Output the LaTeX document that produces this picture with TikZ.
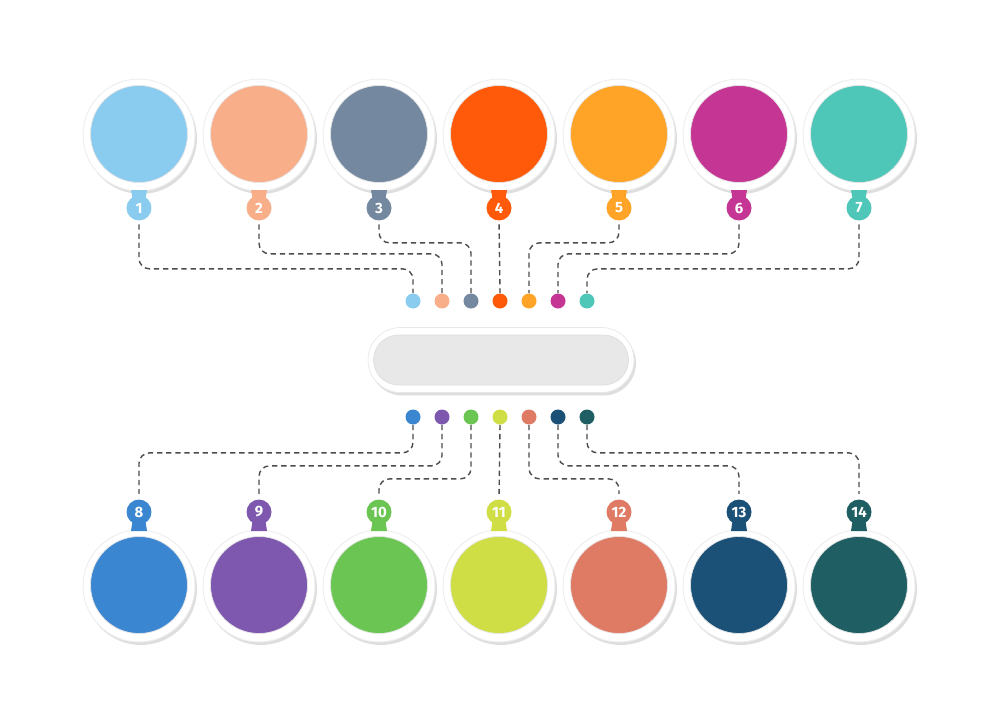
\documentclass[tikz,border=0pt]{standalone}
\usepackage{fontspec}
\setsansfont{Fira Sans}
\usepackage{tikz}
\usepackage{xcolor}
\usetikzlibrary{shadows}

\definecolor{c1}{HTML}{8ACBF0}
\definecolor{c2}{HTML}{F9AE8A}
\definecolor{c3}{HTML}{74889F}
\definecolor{c4}{HTML}{FF5A0A}
\definecolor{c5}{HTML}{FFA426}
\definecolor{c6}{HTML}{C43594}
\definecolor{c7}{HTML}{4EC6B8}
\definecolor{c8}{HTML}{3A86D0}
\definecolor{c9}{HTML}{7E58AE}
\definecolor{c10}{HTML}{6BC552}
\definecolor{c11}{HTML}{CFDE45}
\definecolor{c12}{HTML}{DF7A64}
\definecolor{c13}{HTML}{1B5077}
\definecolor{c14}{HTML}{1F5E63}

\tikzset{
  ring/.style={circle,fill=white,draw=black!7,line width=0.5pt,minimum size=22.4mm,inner sep=0pt,
    drop shadow={shadow xshift=0.4mm,shadow yshift=-0.6mm,opacity=0.13,fill=black}},
  disc/.style={circle,fill=#1,draw=black!10,line width=0.4pt,minimum size=19.4mm,inner sep=0pt},
  tab/.style={circle,fill=#1,minimum size=5mm,inner sep=0pt,text=white,
    font=\sffamily\bfseries\fontsize{8.5}{8.5}\selectfont},
  dot/.style={circle,fill=#1,minimum size=3mm,inner sep=0pt},
  link/.style={draw=black!70,line width=0.8pt,dash pattern=on 3pt off 2.2pt,rounded corners=6pt}
}

\begin{document}
\begin{tikzpicture}[x=0.02cm,y=-0.02cm]
\useasboundingbox (0,0) rectangle (1000,720);

% top row
\foreach \i/\x in {1/139,2/259,3/379,4/499,5/619,6/739,7/859}{
  \node[ring] (r\i) at (\x,135) {};
  \node[disc=c\i] (c\i) at (\x,134) {};
  \fill[c\i] (\x-8,190) -- (\x-6,202) -- (\x+6,202) -- (\x+8,190) -- cycle;
  \node[tab=c\i] (t\i) at (\x,208) {\i};
}
\foreach \i/\x in {1/413,2/442,3/471,4/500,5/529,6/558,7/587}
  \node[dot=c\i] (d\i) at (\x,301) {};

% bottom row
\foreach \i/\x in {8/139,9/259,10/379,11/499,12/619,13/739,14/859}{
  \node[ring] (r\i) at (\x,586) {};
  \node[disc=c\i] (c\i) at (\x,585) {};
  \fill[c\i] (\x-8,531) -- (\x-6,518) -- (\x+6,518) -- (\x+8,531) -- cycle;
  \node[tab=c\i] (t\i) at (\x,512) {\i};
}
\foreach \i/\x in {8/413,9/442,10/471,11/500,12/529,13/558,14/587}
  \node[dot=c\i] (d\i) at (\x,417) {};

% hub
\node[rectangle,rounded corners=6.5mm,minimum width=53.2mm,minimum height=13mm,fill=white,
  draw=black!9,drop shadow={shadow xshift=0.4mm,shadow yshift=-0.6mm,opacity=0.13,fill=black}]
  (hub) at (501,360) {};
\node[rectangle,rounded corners=5mm,minimum width=51mm,minimum height=10mm,fill=black!9,
  draw=black!13,line width=0.4pt] (hubin) at (501,360) {};

% links
\draw[link,shorten <=2pt] (t1.south) -- ++(0,48) -| (d1.north);
\draw[link,shorten <=2pt] (t2.south) -- ++(0,33) -| (d2.north);
\draw[link,shorten <=2pt] (t3.south) -- ++(0,22) -| (d3.north);
\draw[link,shorten <=2pt] (t4.south) -- (d4.north);
\draw[link,shorten <=2pt] (t5.south) -- ++(0,22) -| (d5.north);
\draw[link,shorten <=2pt] (t6.south) -- ++(0,33) -| (d6.north);
\draw[link,shorten <=2pt] (t7.south) -- ++(0,48) -| (d7.north);

\draw[link,shorten >=3pt] (d8.south) -- ++(0,28) -| (t8.north);
\draw[link,shorten >=3pt] (d9.south) -- ++(0,41) -| (t9.north);
\draw[link,shorten >=3pt] (d10.south) -- ++(0,54) -| (t10.north);
\draw[link,shorten >=3pt] (d11.south) -- (t11.north);
\draw[link,shorten >=3pt] (d12.south) -- ++(0,54) -| (t12.north);
\draw[link,shorten >=3pt] (d13.south) -- ++(0,41) -| (t13.north);
\draw[link,shorten >=3pt] (d14.south) -- ++(0,28) -| (t14.north);
\end{tikzpicture}
\end{document}
